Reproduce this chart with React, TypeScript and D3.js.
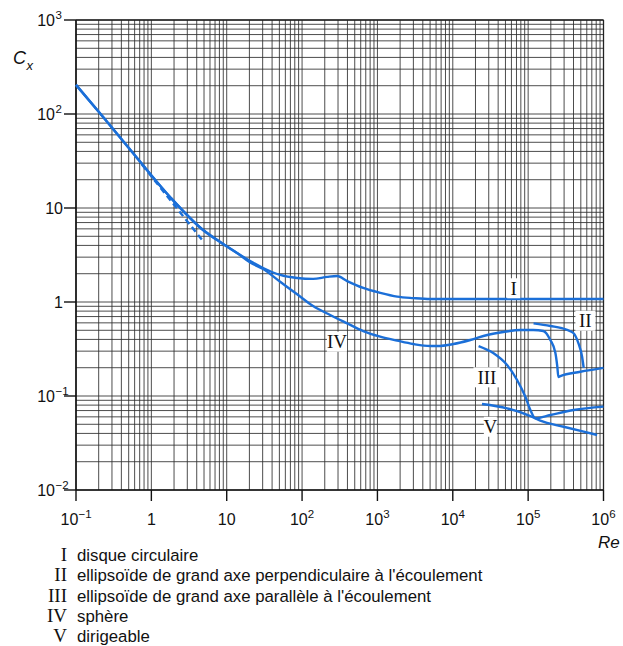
import React from "react";
import * as d3 from "d3";

// ---- Data (Re, Cx) ----
const stokesDashed: [number, number][] = [
  [0.75, 29],
  [4.9, 4.4],
];

const curveI: [number, number][] = [
  [0.1, 204], [0.229, 93], [0.646, 34], [1.77, 13.1], [4.86, 5.83], [8.96, 4.14],
  [13.7, 3.32], [20.5, 2.73], [30.4, 2.3], [51.2, 1.94], [86, 1.8], [140, 1.76],
  [215, 1.85], [292, 1.89], [397, 1.67], [648, 1.41], [1090, 1.25], [1830, 1.14],
  [2990, 1.1], [5020, 1.076], [1e6, 1.076],
];

const curveII: [number, number][] = [
  [118000, 0.593], [197000, 0.556], [329000, 0.504], [398000, 0.468],
  [464000, 0.366], [520000, 0.262], [546000, 0.199],
];

const curveIII: [number, number][] = [
  [22000, 0.34], [34800, 0.285], [52500, 0.214], [71300, 0.148], [91900, 0.098],
  [107000, 0.071], [125000, 0.058], [197000, 0.0628], [402000, 0.071], [1e6, 0.077],
];

const curveIV: [number, number][] = [
  [0.1, 204], [0.229, 93], [0.646, 34], [1.77, 13.1], [4.86, 5.83], [8.96, 4.14],
  [13.7, 3.32], [20.5, 2.63], [30.4, 2.24], [51.2, 1.64], [86, 1.21], [140, 0.906],
  [236, 0.727], [397, 0.593], [648, 0.491], [1090, 0.428], [1830, 0.388], [2990, 0.357],
  [5020, 0.34], [6220, 0.34], [10200, 0.357], [17100, 0.394], [28700, 0.446],
  [46900, 0.48], [78700, 0.504], [117000, 0.504], [159000, 0.492], [197000, 0.394],
  [230000, 0.287], [244000, 0.204], [252000, 0.159], [268000, 0.163], [493000, 0.181],
  [1e6, 0.199],
];

const curveV: [number, number][] = [
  [24400, 0.0822], [52500, 0.074], [107000, 0.0612], [145000, 0.0546],
  [296000, 0.0471], [546000, 0.0417], [822000, 0.0385],
];

const curveLabels = ["I", "II", "III", "IV", "V"];
const curveLabelPos: [number, number][] = [
  [64300, 1.4], [575000, 0.632], [28400, 0.158], [290, 0.378], [31500, 0.0471],
];

const xTickValues = [0.1, 1, 10, 100, 1e3, 1e4, 1e5, 1e6];
const xTickBase = ["10", "1", "10", "10", "10", "10", "10", "10"];
const xTickSup = ["\u22121", "", "", "2", "3", "4", "5", "6"];

const yTickValues = [0.01, 0.1, 1, 10, 100, 1000];
const yTickBase = ["10", "10", "1", "10", "10", "10"];
const yTickSup = ["\u22122", "\u22121", "", "", "2", "3"];

const legendNumerals = ["I", "II", "III", "IV", "V"];
const legendTexts = [
  "disque circulaire",
  "ellipsoïde de grand axe perpendiculaire à l'écoulement",
  "ellipsoïde de grand axe parallèle à l'écoulement",
  "sphère",
  "dirigeable",
];

// ---- Layout ----
const W = 623;
const H = 646;
const left = 76;
const right = 603.5;
const top = 20;
const bottom = 490;
const blue = "#1b6fd8";
const sans = "'Liberation Sans', Arial, sans-serif";
const serif = "'Liberation Serif', 'Times New Roman', serif";

export default function App() {
  const x = d3.scaleLog().domain([0.1, 1e6]).range([left, right]);
  const y = d3.scaleLog().domain([0.01, 1000]).range([bottom, top]);

  const line = d3
    .line<[number, number]>()
    .x((d) => x(d[0]))
    .y((d) => y(d[1]))
    .curve(d3.curveMonotoneX);

  const xGrid: number[] = [];
  for (let e = -1; e < 6; e++) for (let m = 1; m <= 9; m++) xGrid.push(m * Math.pow(10, e));
  xGrid.push(1e6);
  const yGrid: number[] = [];
  for (let e = -2; e < 3; e++) for (let m = 1; m <= 9; m++) yGrid.push(m * Math.pow(10, e));
  yGrid.push(1000);

  const curves = [curveI, curveII, curveIII, curveIV, curveV];

  return (
    <div style={{ position: "absolute", left: 0, top: 0 }}>
      <svg width={W} height={H} style={{ display: "block", background: "#fff" }}>
        {/* grid */}
        <g>
          {xGrid.map((v, i) => (
            <line
              key={"xg" + i}
              x1={x(v)}
              x2={x(v)}
              y1={top}
              y2={bottom}
              stroke="#2e2e2e"
              strokeWidth={1}
              strokeOpacity={0.85}
            />
          ))}
          {yGrid.map((v, i) => (
            <line
              key={"yg" + i}
              x1={left}
              x2={right}
              y1={y(v)}
              y2={y(v)}
              stroke="#2e2e2e"
              strokeWidth={1}
              strokeOpacity={0.85}
            />
          ))}
        </g>
        {/* axes */}
        <line x1={left} x2={left} y1={top} y2={bottom} stroke="#111" strokeWidth={1.6} />
        <line x1={left} x2={right} y1={bottom} y2={bottom} stroke="#111" strokeWidth={1.6} />
        <line x1={left} x2={right} y1={top} y2={top} stroke="#222" strokeWidth={1.3} />
        <line x1={right} x2={right} y1={top} y2={bottom} stroke="#222" strokeWidth={1.3} />

        {/* y ticks */}
        {yTickValues.map((v, i) => (
          <g key={"yt" + i}>
            <line x1={left - 12} x2={left} y1={y(v)} y2={y(v)} stroke="#111" strokeWidth={1.4} />
            <text
              x={yTickSup[i] ? 55 : 63}
              y={y(v) + 5.5}
              textAnchor="end"
              fontFamily={sans}
              fontSize={16}
              fill="#111"
            >
              {yTickBase[i]}
            </text>
            {yTickSup[i] && (
              <text x={55.5} y={y(v) - 1} fontFamily={sans} fontSize={11.5} fill="#111">
                {yTickSup[i]}
              </text>
            )}
          </g>
        ))}

        {/* x ticks */}
        {xTickValues.map((v, i) => {
          const supW = xTickSup[i] ? xTickSup[i].length * 6.5 : 0;
          const baseX = x(v) - supW / 2;
          return (
            <g key={"xt" + i}>
              <line x1={x(v)} x2={x(v)} y1={bottom} y2={bottom + 11} stroke="#111" strokeWidth={1.4} />
              <text x={baseX} y={525} textAnchor="middle" fontFamily={sans} fontSize={16} fill="#111">
                {xTickBase[i]}
              </text>
              {xTickSup[i] && (
                <text x={baseX + 9} y={518} fontFamily={sans} fontSize={11.5} fill="#111">
                  {xTickSup[i]}
                </text>
              )}
            </g>
          );
        })}

        {/* axis titles */}
        <text x={13} y={64} fontFamily={sans} fontSize={18} fontStyle="italic" fill="#111">
          C
        </text>
        <text x={26.5} y={70} fontFamily={sans} fontSize={13} fontStyle="italic" fill="#111">
          x
        </text>
        <text x={598} y={548} fontFamily={sans} fontSize={17} fontStyle="italic" fill="#111">
          Re
        </text>

        {/* curves */}
        <path
          d={line(stokesDashed) || ""}
          fill="none"
          stroke={blue}
          strokeWidth={2.4}
          strokeDasharray="6,4"
        />
        {curves.map((c, i) => (
          <path key={"c" + i} d={line(c) || ""} fill="none" stroke={blue} strokeWidth={2.4} />
        ))}

        {/* curve labels */}
        {curveLabels.map((t, i) => {
          const cx = x(curveLabelPos[i][0]);
          const cy = y(curveLabelPos[i][1]);
          const w = t.length * 7 + 6;
          return (
            <g key={"cl" + i}>
              <rect x={cx - w / 2} y={cy - 10} width={w} height={20} fill="#fff" />
              <text
                x={cx}
                y={cy + 6.5}
                textAnchor="middle"
                fontFamily={serif}
                fontSize={19}
                fill="#111"
              >
                {t}
              </text>
            </g>
          );
        })}

        {/* legend */}
        {legendNumerals.map((n, i) => (
          <g key={"lg" + i}>
            <text
              x={67}
              y={561 + i * 20.3}
              textAnchor="end"
              fontFamily={serif}
              fontSize={19}
              fill="#111"
            >
              {n}
            </text>
            <text x={77} y={561 + i * 20.3} fontFamily={sans} fontSize={16.8} fill="#111">
              {legendTexts[i]}
            </text>
          </g>
        ))}
      </svg>
    </div>
  );
}
